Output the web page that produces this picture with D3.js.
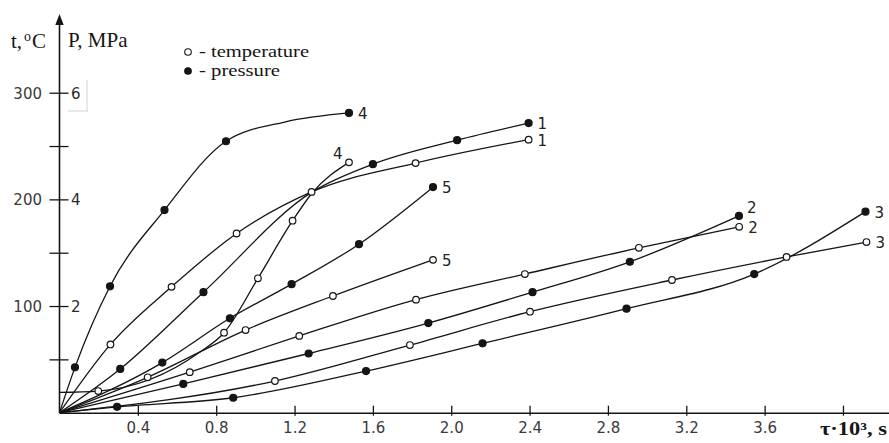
<!DOCTYPE html>
<html>
<head>
<meta charset="utf-8">
<script src="https://cdn.jsdelivr.net/npm/d3@7/dist/d3.min.js"></script>
<style>
  body { margin: 0; background: #fff; }
  svg { display: block; }
</style>
</head>
<body>
<div id="wrapper"></div>
<script>
// points: [tau*10^3 s, value, measured marker (1) or shape guide (0)]
// temperature in degC
const temp1 = [[0,0,0],[0.26,64,1],[0.572,118,1],[0.904,168,1],[1.287,207,1],[1.818,234,1],[2.395,256,1]];
const temp2 = [[0,0,0],[0.665,38,1],[1.224,72,1],[1.82,106,1],[2.376,130,1],[2.958,154.6,1],[3.47,174.3,1]];
const temp3 = [[0,0,0],[1.10,29.7,1],[1.789,63.4,1],[2.402,94.7,1],[3.127,124.4,1],[3.712,146,1],[4.12,160,1]];
const temp4 = [[0,19,0],[0.198,20.3,1],[0.717,56.9,0],[0.84,75,1],[1.013,126,1],[1.19,180,1],[1.29,206,0],[1.478,234.7,1]];
const temp5 = [[0,0,0],[0.45,33.2,1],[0.95,77.5,1],[1.396,109.4,1],[1.907,143.3,1]];
// pressure in MPa
const press1 = [[0,0,0],[0.31,0.82,1],[0.735,2.26,1],[1.29,4.14,0],[1.6,4.66,1],[2.03,5.11,1],[2.395,5.43,1]];
const press2 = [[0,0,0],[0.632,0.54,1],[1.272,1.11,1],[1.883,1.68,1],[2.415,2.26,1],[2.912,2.83,1],[3.469,3.69,1]];
const press3 = [[0,0,0],[0.294,0.11,1],[0.887,0.28,1],[1.565,0.78,1],[2.16,1.30,1],[2.895,1.95,1],[3.547,2.6,1],[4.115,3.77,1]];
const press4 = [[0,0,0],[0.079,0.85,1],[0.258,2.37,1],[0.536,3.8,1],[0.85,5.09,1],[1.15,5.45,0],[1.478,5.62,1]];
const press5 = [[0,0,0],[0.525,0.94,1],[0.87,1.77,1],[1.185,2.41,1],[1.529,3.16,1],[1.907,4.23,1]];

const curveNames = ["1","2","3","4","5"];
const xTicks = [0.4,0.8,1.2,1.6,2.0,2.4,2.8,3.2,3.6,4.0];
const tTicks = [50,100,150,200,250,300];
const tLabels = [100,200,300];
const pLabels = [2,4,6];
const legendLabels = ["- temperature","- pressure"];

const drawChart = () => {
  const width = 889, height = 443;
  const x0 = 59.5, y0 = 412.7;

  const svg = d3.select("#wrapper").append("svg")
    .attr("width", width).attr("height", height);

  // scales
  const xScale = d3.scaleLinear().domain([0, 4.235]).range([x0, width]);
  const tScale = d3.scaleLinear().domain([0, 300]).range([y0, 92.7]);
  const pScale = d3.scaleLinear().domain([0, 6]).range([y0, 92.7]);

  const ink = "#151515";
  const sans = "'DejaVu Sans', Verdana, sans-serif";
  const serif = "'Liberation Serif', 'Times New Roman', serif";

  // x axis
  const xAxisGen = d3.axisBottom(xScale)
    .tickValues(xTicks)
    .tickSizeOuter(0)
    .tickFormat(d3.format(".1f"));
  const xAxis = svg.append("g")
    .attr("transform", `translate(0,${y0})`)
    .call(xAxisGen);
  xAxis.select(".domain").attr("stroke", ink).attr("stroke-width", 1.6);
  xAxis.selectAll(".tick line").attr("y1", 3).attr("y2", -7).attr("stroke", ink).attr("stroke-width", 1.3);
  xAxis.selectAll(".tick text")
    .attr("y", 20.5).attr("dy", null)
    .attr("font-family", sans).attr("font-size", 15).attr("fill", "#3a3a3a");
  // last tick (4.0) carries no number
  xAxis.selectAll(".tick text").filter(d => d === 4.0).remove();

  svg.append("text")
    .attr("x", 820).attr("y", 435)
    .attr("font-family", serif).attr("font-weight", "bold").attr("font-size", 18)
    .attr("textLength", 67).attr("lengthAdjust", "spacingAndGlyphs")
    .attr("fill", ink)
    .text("τ·10³, s");

  // y axis with arrow
  svg.append("line")
    .attr("x1", x0).attr("x2", x0).attr("y1", y0).attr("y2", 22)
    .attr("stroke", ink).attr("stroke-width", 1.6);
  svg.append("path")
    .attr("d", `M${x0},14 L${x0 - 4.2},25 L${x0 + 4.2},25 Z`)
    .attr("fill", ink);

  const yAxisGen = d3.axisLeft(tScale)
    .tickValues(tTicks)
    .tickSize(0)
    .tickFormat(d => tLabels.includes(d) ? d : "");
  const yAxis = svg.append("g")
    .attr("transform", `translate(${x0},0)`)
    .call(yAxisGen);
  yAxis.select(".domain").remove();
  yAxis.selectAll(".tick line").attr("x1", -10).attr("x2", 9).attr("stroke", ink).attr("stroke-width", 1.3);
  yAxis.selectAll(".tick text")
    .attr("x", -17.5).attr("dy", "0.36em")
    .attr("font-family", sans).attr("font-size", 15).attr("fill", "#3a3a3a");

  const pAxisGen = d3.axisRight(pScale)
    .tickValues(pLabels)
    .tickSize(0)
    .tickFormat(d3.format("d"));
  const pAxis = svg.append("g")
    .attr("transform", `translate(${x0},0)`)
    .call(pAxisGen);
  pAxis.select(".domain").remove();
  pAxis.selectAll(".tick text")
    .attr("x", 11.5).attr("dy", "0.36em")
    .attr("font-family", sans).attr("font-size", 15).attr("fill", "#2a2a2a");

  // faint scan box next to the "6"
  svg.append("path")
    .attr("d", "M87,80 L87,111 M68,111 L88,111")
    .attr("stroke", "#d2d2d2").attr("stroke-width", 1).attr("fill", "none");

  // axis titles
  const tTitle = svg.append("text")
    .attr("x", 11).attr("y", 48)
    .attr("font-family", serif).attr("font-size", 21).attr("fill", ink);
  tTitle.append("tspan").text("t,");
  tTitle.append("tspan").attr("dx", 2).attr("dy", -7).attr("font-size", 14).text("o");
  tTitle.append("tspan").attr("dx", 1).attr("dy", 7).text("C");

  svg.append("text")
    .attr("x", 68).attr("y", 47)
    .attr("font-family", serif).attr("font-size", 21).attr("fill", ink)
    .text("P, MPa");

  // legend
  const legend = svg.append("g");
  legend.selectAll("circle")
    .data(legendLabels)
    .join("circle")
    .attr("cx", 188)
    .attr("cy", (d, i) => 52 + i * 19)
    .attr("r", 3.3)
    .attr("fill", (d, i) => i === 0 ? "#fff" : ink)
    .attr("stroke", ink).attr("stroke-width", 1.1);
  legend.selectAll("text")
    .data(legendLabels)
    .join("text")
    .attr("x", 199)
    .attr("y", (d, i) => 57 + i * 19)
    .attr("font-family", serif).attr("font-size", 17).attr("fill", ink)
    .attr("textLength", (d, i) => i === 0 ? 110 : 81)
    .attr("lengthAdjust", "spacingAndGlyphs")
    .text(d => d);

  // curves
  const temps = [temp1, temp2, temp3, temp4, temp5];
  const presses = [press1, press2, press3, press4, press5];
  const series = [];
  temps.forEach((pts, i) => series.push({ name: curveNames[i], kind: "t", pts }));
  presses.forEach((pts, i) => series.push({ name: curveNames[i], kind: "p", pts }));

  const yOf = (s, v) => s.kind === "t" ? tScale(v) : pScale(v);

  const lineGen = s => d3.line()
    .x(d => xScale(d[0]))
    .y(d => yOf(s, d[1]))
    .curve(d3.curveMonotoneX)(s.pts);

  svg.append("g").selectAll("path")
    .data(series)
    .join("path")
    .attr("d", d => lineGen(d))
    .attr("fill", "none")
    .attr("stroke", ink)
    .attr("stroke-width", 1.3);

  // markers
  const marks = [];
  series.forEach(s => s.pts.forEach(p => { if (p[2]) marks.push({ s, p }); }));
  svg.append("g").selectAll("circle")
    .data(marks)
    .join("circle")
    .attr("cx", d => xScale(d.p[0]))
    .attr("cy", d => yOf(d.s, d.p[1]))
    .attr("r", d => d.s.kind === "t" ? 3.3 : 3.5)
    .attr("fill", d => d.s.kind === "t" ? "#fff" : ink)
    .attr("stroke", ink)
    .attr("stroke-width", 1.2);

  // end labels
  const labelShift = s => {
    if (s.kind === "t" && s.name === "4") return [-16, -3];
    if (s.kind === "p" && s.name === "2") return [8, -3];
    return [9, 6];
  };
  svg.append("g").selectAll("text")
    .data(series)
    .join("text")
    .attr("x", d => xScale(d.pts[d.pts.length - 1][0]) + labelShift(d)[0])
    .attr("y", d => yOf(d, d.pts[d.pts.length - 1][1]) + labelShift(d)[1])
    .attr("font-family", sans).attr("font-size", 15).attr("fill", "#222")
    .text(d => d.name);
};

drawChart();
</script>
</body>
</html>
